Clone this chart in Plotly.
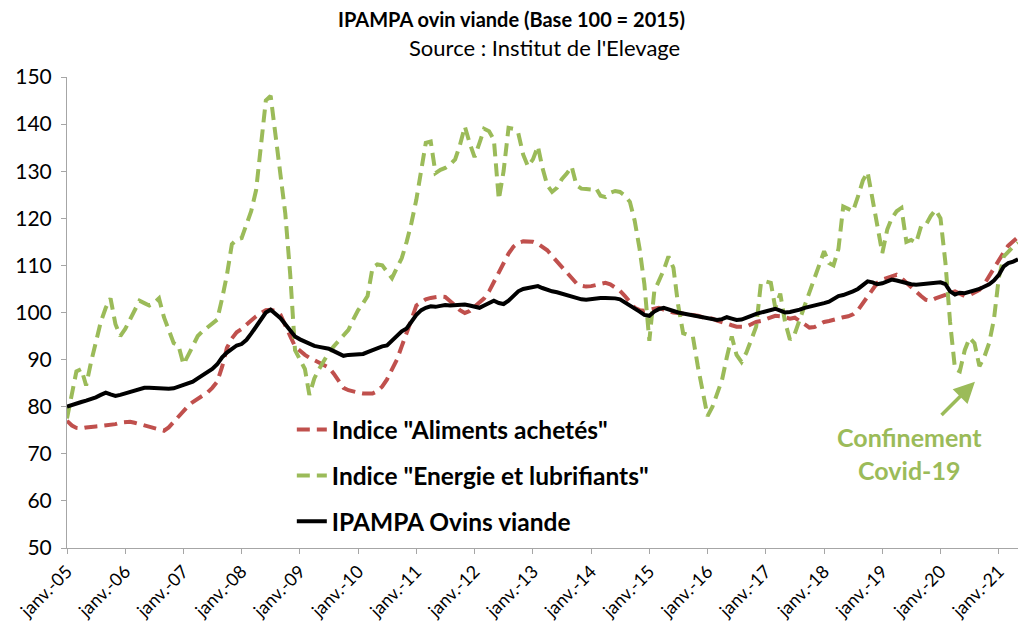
import pandas as pd
import plotly.graph_objects as go

months = pd.date_range("2005-01-01", periods=197, freq="MS")

ipampa = [
    80.0, 80.4, 80.8, 81.0, 81.3, 81.6, 82.0, 82.5, 83.0, 82.6, 82.3, 82.5,
    82.8, 83.1, 83.4, 83.8, 84.0, 84.0, 83.9, 84.0, 83.7, 83.8, 83.9, 84.2,
    84.5, 84.8, 85.3, 86.0, 86.6, 87.2, 88.0, 89.0, 90.5, 91.5, 92.2, 93.0,
    93.3, 94.2, 95.5, 97.0, 98.5, 100.0, 100.6, 99.8, 98.8, 97.5, 96.0, 94.9,
    94.3, 93.8, 93.3, 92.9, 92.7, 92.5, 92.3, 91.8, 91.3, 90.8, 91.0, 91.1,
    91.0, 91.2, 91.6, 92.0, 92.5, 92.8, 93.0, 94.0, 95.2, 96.0, 96.6, 98.0,
    99.5, 100.5, 101.0, 101.3, 101.2, 101.4, 101.6, 101.5, 101.6, 101.7, 101.7, 101.5,
    101.3, 101.0, 101.5, 102.0, 102.5, 102.0, 101.8, 102.5, 103.5, 104.5, 105.0, 105.2,
    105.5, 105.6, 105.2, 104.8, 104.5, 104.3, 104.0, 103.7, 103.5, 103.0, 102.8, 102.7,
    102.9, 103.0, 103.1, 103.1, 103.1, 103.0, 102.8, 102.2, 101.5, 100.8, 100.2, 99.5,
    99.3, 100.2, 100.7, 101.0, 100.6, 100.3, 100.0, 99.8, 99.6, 99.5, 99.2, 99.0,
    98.8, 98.6, 98.4, 98.6, 99.0, 98.7, 98.4, 98.5, 98.8, 99.3, 99.7, 100.0,
    100.2, 100.5, 100.8, 100.4, 100.0, 100.1, 100.3, 100.6, 101.0, 101.2, 101.5, 101.8,
    102.0, 102.3, 102.8, 103.5, 103.7, 104.0, 104.5, 105.0, 105.8, 106.6, 106.4, 106.0,
    106.2, 106.7, 107.0, 106.8, 106.5, 106.2, 106.0, 105.9, 106.0, 106.2, 106.3, 106.3,
    106.4, 106.0, 104.5, 103.8, 104.2, 104.1, 104.5, 104.7, 105.0, 105.5, 106.0, 106.8,
    108.0, 109.8, 110.5, 110.8, 111.3,
]

aliments = [
    77.0, 76.0, 75.5, 75.4, 75.6, 75.8, 75.8, 75.9, 76.0, 76.2, 76.3, 76.6,
    76.8, 76.8, 76.6, 76.3, 76.0, 75.7, 75.5, 75.2, 74.9, 75.6, 76.8, 78.0,
    79.2, 80.2, 81.0, 81.7, 82.3, 83.0, 84.0, 85.3, 88.5, 92.5, 94.5, 95.8,
    96.5, 97.3, 98.3, 99.2, 99.9, 100.5, 100.6, 100.3, 99.5, 97.5, 95.0, 92.8,
    91.8, 91.0, 90.4, 89.9, 89.5, 89.0, 88.3, 87.0, 85.5, 84.0, 83.5, 83.2,
    83.0, 82.8, 82.7, 82.8, 83.3, 84.3, 85.8, 87.8, 90.0, 92.8, 95.5, 98.5,
    101.5, 102.2, 102.8, 103.1, 103.3, 103.4, 103.3, 102.5, 101.5, 100.5, 99.9, 100.3,
    101.2, 102.0, 103.0, 104.5, 106.5, 108.5, 110.5, 112.5, 114.0, 114.8, 115.1, 115.1,
    115.0, 114.6, 114.0, 113.2, 112.0, 110.8, 109.8, 108.5, 107.2, 106.2, 105.7, 105.5,
    105.6, 105.9, 106.1, 106.3, 106.0, 105.3, 104.6, 103.5, 102.3, 101.0, 100.5, 100.4,
    100.6, 100.9, 101.0, 100.6, 100.2, 100.0, 99.9, 99.8, 99.6, 99.5, 99.3, 99.0,
    98.9, 98.7, 98.3, 97.9, 97.6, 97.3, 97.0, 96.9, 97.0, 97.5, 98.0, 98.2,
    98.6, 98.9, 99.3, 99.2, 99.0, 98.7, 98.9, 98.2, 97.5, 96.8, 96.9, 97.5,
    98.0, 98.2, 98.5, 98.8, 99.0, 99.2, 99.6, 100.5, 102.0, 103.5, 105.0, 106.3,
    107.0, 107.4, 107.8, 108.0, 107.3, 106.3, 105.5, 104.5, 103.5, 102.7, 102.5, 103.0,
    103.4, 103.8, 104.3, 104.5, 104.0, 103.5, 103.7, 104.2, 104.8, 106.0, 107.8, 109.3,
    111.0, 112.8, 114.2, 115.2, 116.0,
]

energie = [
    77.5, 83.0, 87.5, 88.0, 84.5, 89.5, 93.5, 98.0, 101.0, 103.0, 97.5, 95.0,
    96.5, 98.5, 100.5, 102.5, 102.0, 101.5, 102.0, 103.0, 99.0, 96.0, 93.5, 93.0,
    89.0, 91.0, 93.0, 95.0, 96.0, 96.8, 97.5, 98.5, 103.0, 108.0, 114.5, 115.5,
    115.8, 118.5, 121.5, 126.0, 135.0, 145.0, 146.0, 138.0, 130.0, 121.0, 108.0, 92.0,
    90.0, 88.0, 82.5, 86.0, 88.0, 90.0, 91.5, 92.8, 94.0, 95.0, 96.3, 98.5,
    100.5, 102.0, 103.5, 109.5, 110.2, 110.0, 108.5, 107.3, 109.5, 111.5, 115.0, 119.0,
    124.0, 131.0, 136.0, 136.3, 129.6, 130.3, 130.7, 131.4, 132.5, 135.5, 139.5, 136.0,
    133.0, 136.0, 139.0, 138.5, 136.7, 124.0, 130.0, 139.2, 139.0, 138.1, 133.5, 131.0,
    132.5, 135.3, 130.8, 127.0, 125.6, 126.5, 128.3, 129.5, 131.0, 127.0, 126.3, 126.2,
    126.1, 126.4, 124.8, 124.5, 125.4, 125.8, 125.6, 124.8, 123.5, 119.5, 113.5, 106.0,
    94.0, 104.5, 106.5, 109.0, 111.9, 109.5, 101.5, 95.6, 95.2, 94.9, 88.6, 83.0,
    78.0, 80.0, 82.5, 85.7, 90.5, 94.9, 91.0, 89.5, 91.5, 94.0, 97.0, 106.3,
    106.6, 106.3, 101.0, 104.0, 98.0, 94.2, 95.5, 98.5, 101.5, 104.5, 107.5, 110.0,
    113.0, 110.5, 110.0, 113.5, 122.5, 122.0, 121.5, 124.6, 128.0, 129.8, 124.0, 117.6,
    112.6, 117.6, 120.0, 121.5, 122.2, 115.0, 115.4, 114.8, 118.3, 118.6, 120.5, 121.8,
    120.0, 110.5, 98.0, 88.0, 87.5, 92.0, 94.6, 93.5, 88.6, 90.5, 93.5, 98.5,
    107.5, 111.9, 113.0, 114.0, 114.8,
]

tick_dates = pd.date_range("2005-01-01", "2021-01-01", freq="YS")
tick_labels = ["janv.-%02d" % (d.year % 100) for d in tick_dates]

names = ['Indice "Aliments achetés"', 'Indice "Energie et lubrifiants"', "IPAMPA Ovins viande"]
colors = ["#C0504D", "#9BBB59", "#000000"]

FONT = "Lato"
fig = go.Figure()
fig.add_trace(go.Scatter(x=months, y=aliments, mode="lines", name=names[0], legendgroup="a",
                         line=dict(color=colors[0], width=4, dash="13px,7px")))
fig.add_trace(go.Scatter(x=months, y=energie, mode="lines", name=names[1], legendgroup="b",
                         line=dict(color=colors[1], width=4, dash="13px,7px")))
fig.add_trace(go.Scatter(x=months, y=ipampa, mode="lines", name=names[2], legendgroup="c",
                         line=dict(color=colors[2], width=4)))

fig.update_layout(
    width=1019, height=634,
    margin=dict(l=67, r=1, t=77, b=86, autoexpand=False),
    plot_bgcolor="white", paper_bgcolor="white",
    font=dict(family=FONT, color="#000000"),
    showlegend=True,
    legend=dict(x=0.2364, y=0.299, xanchor="left", yanchor="top",
                bgcolor="rgba(0,0,0,0)", tracegroupgap=11,
                font=dict(family=FONT, size=24.5, color="#000000", weight="bold")),
    xaxis=dict(type="date", range=[months[0], months[-1]], automargin=False,
               tickvals=tick_dates, ticktext=tick_labels, tickangle=-45,
               showline=True, linecolor="#A6A6A6", linewidth=1,
               ticks="outside", ticklen=5, tickcolor="#A6A6A6",
               showgrid=False, zeroline=False,
               tickfont=dict(family=FONT, size=18, color="#000000")),
    yaxis=dict(range=[50, 150], dtick=10, tick0=50, automargin=False,
               showline=True, linecolor="#A6A6A6", linewidth=1,
               ticks="outside", ticklen=5, tickcolor="#A6A6A6",
               ticklabelstandoff=5,
               showgrid=False, zeroline=False,
               tickfont=dict(family=FONT, size=21, color="#000000")),
)

fig.add_annotation(text="<b>IPAMPA ovin viande (Base 100 = 2015)</b>", xref="paper", yref="paper",
                   x=(511 - 67) / 951, y=(548 - 19) / 471, xanchor="center", yanchor="middle",
                   showarrow=False, font=dict(family=FONT, size=20, color="#000000"))
fig.add_annotation(text="Source : Institut de l'Elevage", xref="paper", yref="paper",
                   x=(544 - 67) / 951, y=(548 - 47) / 471, xanchor="center", yanchor="middle",
                   showarrow=False, font=dict(family=FONT, size=22, color="#000000"))

fig.add_annotation(text="<b>Confinement<br>Covid-19</b>", x="2019-06-20", y=70.0, xref="x", yref="y",
                   showarrow=False, align="center",
                   font=dict(family=FONT, size=25, color="#9BBB59"))
fig.add_annotation(x="2020-08-04", y=85.3, ax="2019-12-29", ay=77.9, xref="x", yref="y",
                   axref="x", ayref="y", text="", showarrow=True, arrowhead=2,
                   arrowsize=1.2, arrowwidth=3.5, arrowcolor="#9BBB59")

fig.write_html("out.html", config={"displayModeBar": False},
               post_script="document.body.style.margin='0';document.body.style.overflow='hidden';")
